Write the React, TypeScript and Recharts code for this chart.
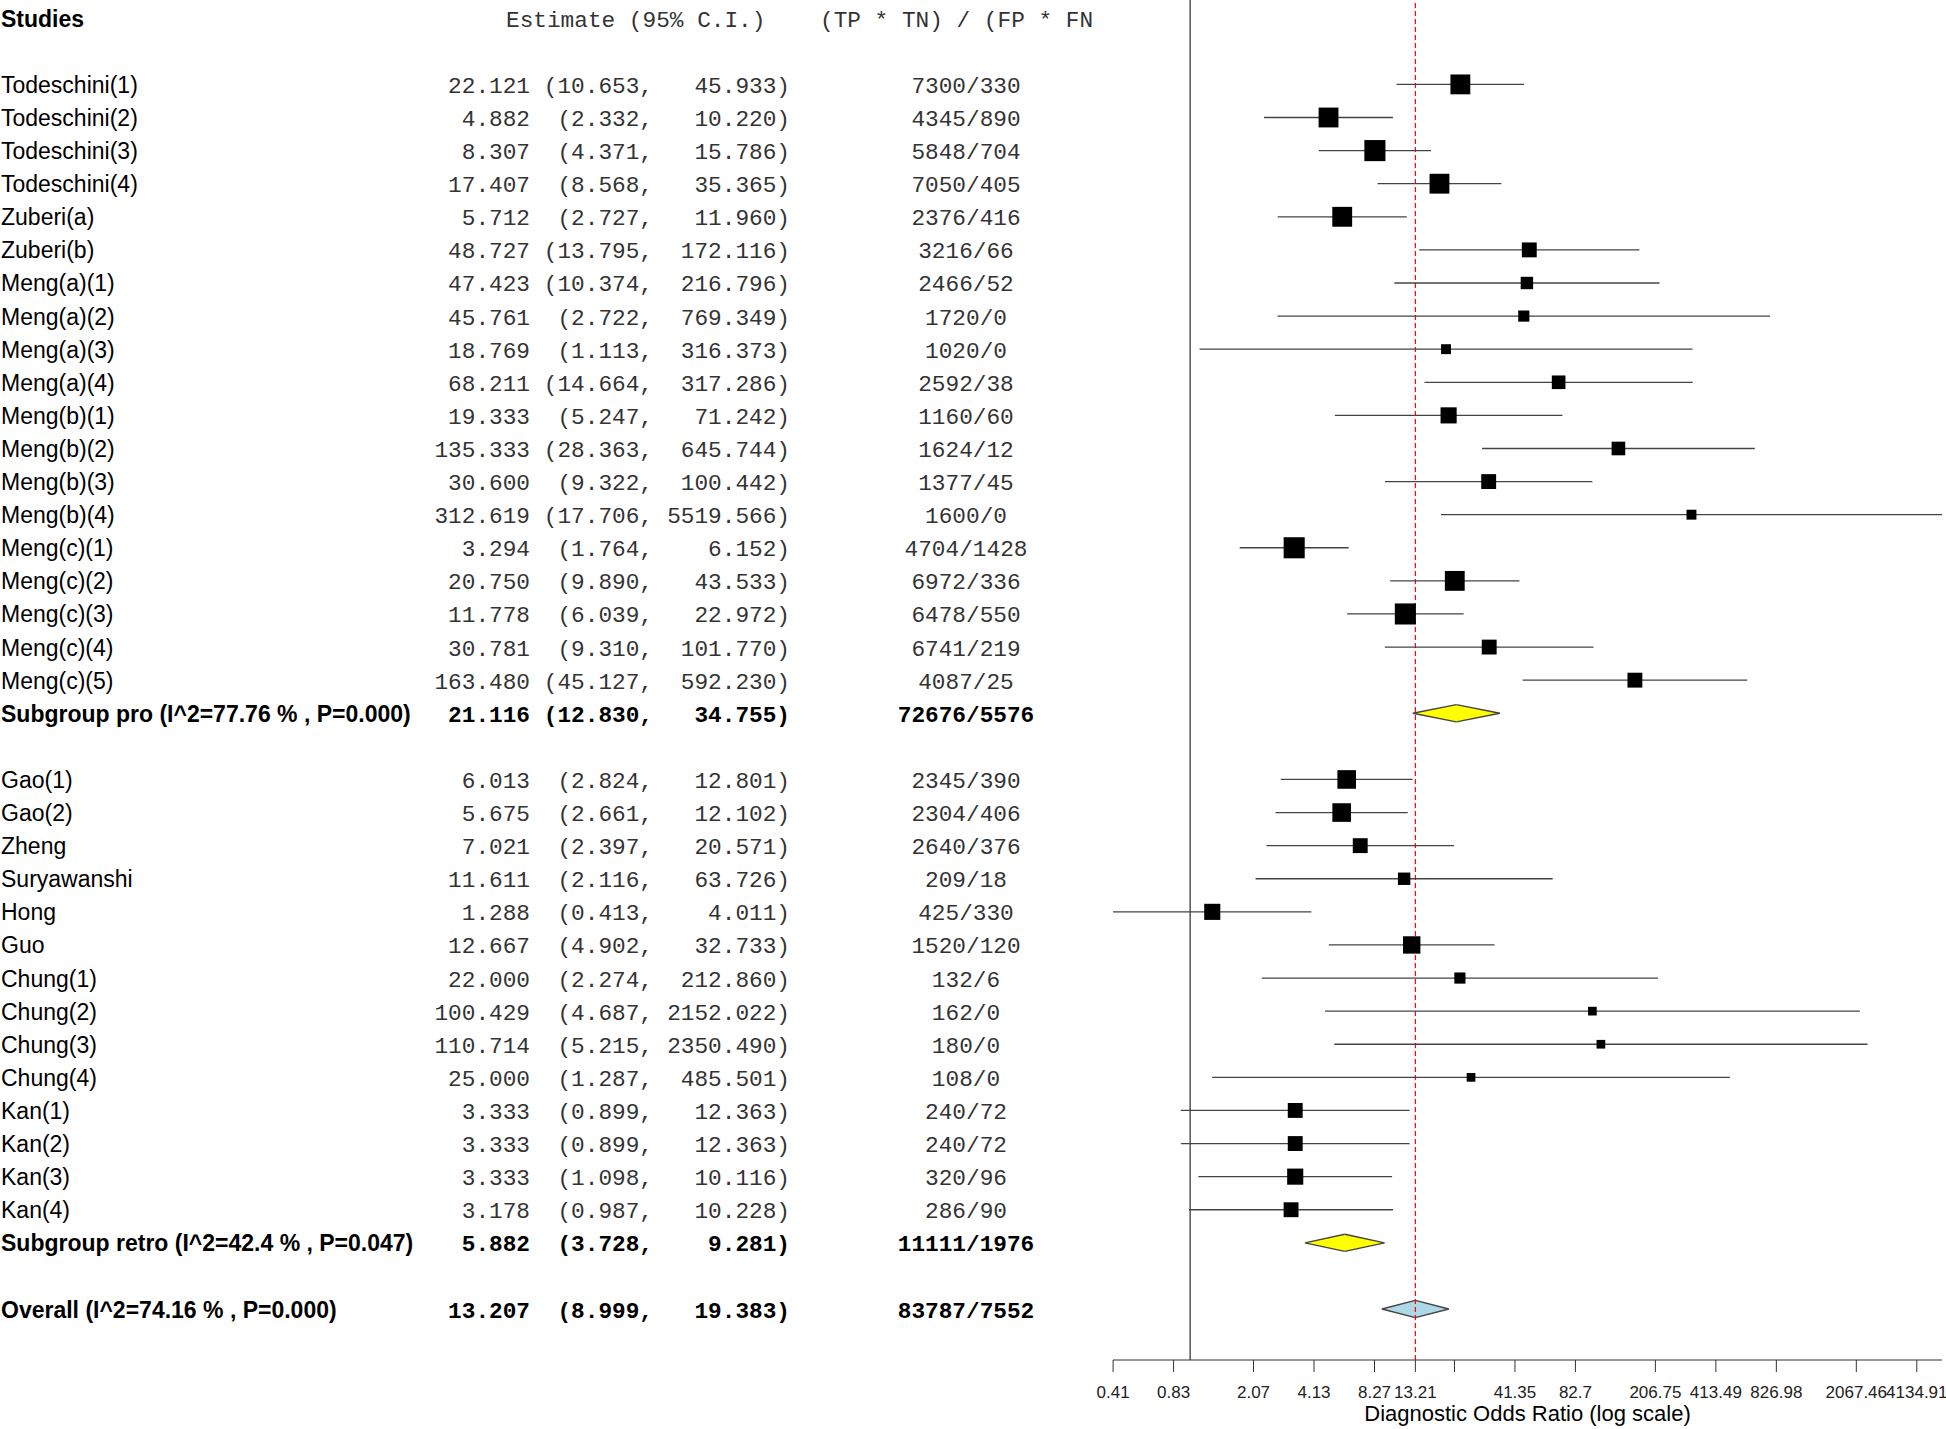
import React from 'react';
import { ComposedChart, Scatter, XAxis, YAxis, ErrorBar, ReferenceLine, ReferenceArea } from 'recharts';

// ---------- data ----------
const studyNames = [
  'Todeschini(1)', 'Todeschini(2)', 'Todeschini(3)', 'Todeschini(4)', 'Zuberi(a)', 'Zuberi(b)',
  'Meng(a)(1)', 'Meng(a)(2)', 'Meng(a)(3)', 'Meng(a)(4)', 'Meng(b)(1)', 'Meng(b)(2)', 'Meng(b)(3)', 'Meng(b)(4)',
  'Meng(c)(1)', 'Meng(c)(2)', 'Meng(c)(3)', 'Meng(c)(4)', 'Meng(c)(5)',
  'Gao(1)', 'Gao(2)', 'Zheng', 'Suryawanshi', 'Hong', 'Guo', 'Chung(1)', 'Chung(2)', 'Chung(3)', 'Chung(4)',
  'Kan(1)', 'Kan(2)', 'Kan(3)', 'Kan(4)',
];
const studyGroup = [
  'pro', 'pro', 'pro', 'pro', 'pro', 'pro', 'pro', 'pro', 'pro', 'pro', 'pro', 'pro', 'pro', 'pro', 'pro', 'pro', 'pro', 'pro', 'pro',
  'retro', 'retro', 'retro', 'retro', 'retro', 'retro', 'retro', 'retro', 'retro', 'retro', 'retro', 'retro', 'retro', 'retro',
];
const estimates = [
  22.121, 4.882, 8.307, 17.407, 5.712, 48.727, 47.423, 45.761, 18.769, 68.211, 19.333, 135.333, 30.6, 312.619,
  3.294, 20.75, 11.778, 30.781, 163.48,
  6.013, 5.675, 7.021, 11.611, 1.288, 12.667, 22.0, 100.429, 110.714, 25.0, 3.333, 3.333, 3.333, 3.178,
];
const lowerCI = [
  10.653, 2.332, 4.371, 8.568, 2.727, 13.795, 10.374, 2.722, 1.113, 14.664, 5.247, 28.363, 9.322, 17.706,
  1.764, 9.89, 6.039, 9.31, 45.127,
  2.824, 2.661, 2.397, 2.116, 0.413, 4.902, 2.274, 4.687, 5.215, 1.287, 0.899, 0.899, 1.098, 0.987,
];
const upperCI = [
  45.933, 10.22, 15.786, 35.365, 11.96, 172.116, 216.796, 769.349, 316.373, 317.286, 71.242, 645.744, 100.442, 5519.566,
  6.152, 43.533, 22.972, 101.77, 592.23,
  12.801, 12.102, 20.571, 63.726, 4.011, 32.733, 212.86, 2152.022, 2350.49, 485.501, 12.363, 12.363, 10.116, 10.228,
];
const ratioText = [
  '7300/330', '4345/890', '5848/704', '7050/405', '2376/416', '3216/66', '2466/52', '1720/0', '1020/0', '2592/38',
  '1160/60', '1624/12', '1377/45', '1600/0', '4704/1428', '6972/336', '6478/550', '6741/219', '4087/25',
  '2345/390', '2304/406', '2640/376', '209/18', '425/330', '1520/120', '132/6', '162/0', '180/0', '108/0',
  '240/72', '240/72', '320/96', '286/90',
];
// relative study weights (box size)
const studyWeights = [
  16, 16, 17, 16, 16, 12, 10, 9, 8, 11, 13, 11, 12, 8, 17, 16, 17, 12, 12,
  15, 15, 12, 10, 13, 14, 9, 7, 7, 7, 12, 12, 13, 12,
];

const subgroupKeys = ['pro', 'retro'];
const subgroupNames = ['Subgroup pro (I^2=77.76 % , P=0.000)', 'Subgroup retro (I^2=42.4 % , P=0.047)'];
const subgroupEst = [21.116, 5.882];
const subgroupLo = [12.83, 3.728];
const subgroupHi = [34.755, 9.281];
const subgroupRatio = ['72676/5576', '11111/1976'];

const overallName = 'Overall (I^2=74.16 % , P=0.000)';
const overallEst = 13.207;
const overallLo = 8.999;
const overallHi = 19.383;
const overallRatio = '83787/7552';

const tickValues = [0.413491, 0.826982, 2.067455, 4.13491, 8.26982, 13.207, 20.67455, 41.3491, 82.6982, 206.7455, 413.491, 826.982, 2067.455, 4134.91];
const tickLabels = ['0.41', '0.83', '2.07', '4.13', '8.27', '13.21', '', '41.35', '82.7', '206.75', '413.49', '826.98', '2067.46', '4134.91'];

// ---------- layout rows ----------
type Row = {
  y: number; kind: 'header' | 'study' | 'summary' | 'overall';
  name: string; est: number; lo: number; hi: number; ratio: string; w: number; fill: string;
};
const rows: Row[] = [];
let r = 0;
rows.push({ y: r, kind: 'header', name: 'Studies', est: 0, lo: 0, hi: 0, ratio: '', w: 0, fill: '' });
r += 2;
subgroupKeys.forEach((g, gi) => {
  studyNames.forEach((n, i) => {
    if (studyGroup[i] !== g) return;
    rows.push({ y: r, kind: 'study', name: n, est: estimates[i], lo: lowerCI[i], hi: upperCI[i], ratio: ratioText[i], w: studyWeights[i], fill: '#000' });
    r += 1;
  });
  rows.push({ y: r, kind: 'summary', name: subgroupNames[gi], est: subgroupEst[gi], lo: subgroupLo[gi], hi: subgroupHi[gi], ratio: subgroupRatio[gi], w: 0, fill: '#FFFF00' });
  r += 2;
});
rows.push({ y: r, kind: 'overall', name: overallName, est: overallEst, lo: overallLo, hi: overallHi, ratio: overallRatio, w: 0, fill: '#ADD8E6' });

const rowByY = new Map(rows.map((row) => [row.y, row]));
const studyPoints = rows
  .filter((row) => row.kind === 'study')
  .map((row) => ({ x: row.est, y: row.y, err: [row.est - row.lo, row.hi - row.est], w: row.w }));
const diamonds = rows.filter((row) => row.kind === 'summary' || row.kind === 'overall');

// ---------- styles ----------
const SANS = "'Liberation Sans', Arial, sans-serif";
const MONO = "'Liberation Mono', 'Courier New', monospace";
const NAME_SIZE = 23;
const MONO_SIZE = 22.75;
const BASE_DY = 8.5;

const RowTick = (props: any) => {
  const { y, payload } = props;
  const row = rowByY.get(payload.value);
  if (!row) return null;
  if (row.kind === 'header') {
    return (
      <g>
        <text x={1} y={y + BASE_DY} fontFamily={SANS} fontSize={NAME_SIZE} fontWeight={700} fill="#000">{row.name}</text>
        <text x={506} y={y + BASE_DY} fontFamily={MONO} fontSize={MONO_SIZE} fill="#333">Estimate (95% C.I.)</text>
        <text x={820} y={y + BASE_DY} fontFamily={MONO} fontSize={MONO_SIZE} fill="#333">(TP * TN) / (FP * FN</text>
      </g>
    );
  }
  const bold = row.kind !== 'study';
  const fw = bold ? 700 : 400;
  const numFill = bold ? '#000' : '#333';
  return (
    <g>
      <text x={1} y={y + BASE_DY} fontFamily={SANS} fontSize={NAME_SIZE} fontWeight={fw} fill="#000">{row.name}</text>
      <text x={530} y={y + BASE_DY} textAnchor="end" fontFamily={MONO} fontSize={MONO_SIZE} fontWeight={fw} fill={numFill}>{row.est.toFixed(3)}</text>
      <text x={653} y={y + BASE_DY} textAnchor="end" fontFamily={MONO} fontSize={MONO_SIZE} fontWeight={fw} fill={numFill}>{`(${row.lo.toFixed(3)},`}</text>
      <text x={790} y={y + BASE_DY} textAnchor="end" fontFamily={MONO} fontSize={MONO_SIZE} fontWeight={fw} fill={numFill}>{`${row.hi.toFixed(3)})`}</text>
      <text x={966} y={y + BASE_DY} textAnchor="middle" fontFamily={MONO} fontSize={MONO_SIZE} fontWeight={fw} fill={numFill}>{row.ratio}</text>
    </g>
  );
};

const BoxShape = (props: any) => {
  const { cx, cy, payload } = props;
  const s = payload.w * 1.24;
  return <rect x={cx - s / 2} y={cy - s / 2} width={s} height={s} fill="#000" />;
};

const makeLeftHalf = (fill: string) => (p: any) => {
  const { x, y, width, height } = p;
  return (
    <g>
      <polygon points={`${x},${y + height / 2} ${x + width + 0.6},${y} ${x + width + 0.6},${y + height}`} fill={fill} stroke="none" />
      <polyline points={`${x + width},${y} ${x},${y + height / 2} ${x + width},${y + height}`} fill="none" stroke="#444" strokeWidth={1.4} />
    </g>
  );
};
const makeRightHalf = (fill: string) => (p: any) => {
  const { x, y, width, height } = p;
  return (
    <g>
      <polygon points={`${x},${y} ${x + width},${y + height / 2} ${x},${y + height}`} fill={fill} stroke="none" />
      <polyline points={`${x},${y} ${x + width},${y + height / 2} ${x},${y + height}`} fill="none" stroke="#444" strokeWidth={1.4} />
    </g>
  );
};

export default function App() {
  return (
    <div style={{ position: 'absolute', left: 0, top: 0, width: 1946, height: 1429, background: '#fff' }}>
      <ComposedChart width={1946} height={1429} margin={{ top: 0, right: 4, bottom: 0, left: 0 }}>
        <XAxis
          dataKey="x"
          type="number"
          scale="log"
          domain={[0.413, 5519.566]}
          allowDataOverflow
          ticks={tickValues}
          interval={0}
          tickFormatter={(v: number) => {
            const i = tickValues.indexOf(v);
            return i >= 0 ? tickLabels[i] : '';
          }}
          tickSize={12}
          tickMargin={14}
          height={69}
          stroke="#333"
          tick={{ fontSize: 17, fill: '#222', fontFamily: SANS }}
          label={{ value: 'Diagnostic Odds Ratio (log scale)', position: 'insideBottom', offset: 8, fontSize: 22, fill: '#000', fontFamily: SANS }}
        />
        <YAxis
          dataKey="y"
          type="number"
          domain={[-0.55, 40.54]}
          reversed
          allowDataOverflow
          width={1113}
          ticks={rows.map((row) => row.y)}
          interval={0}
          axisLine={false}
          tickLine={false}
          tick={(p: any) => <RowTick {...p} />}
        />
        <ReferenceLine x={1} stroke="#555" strokeWidth={1.5} />
        <ReferenceLine x={13.207} stroke="#ff0000" strokeWidth={1.2} strokeDasharray="5 3" />
        {diamonds.map((d) => (
          <ReferenceArea key={`l${d.y}`} x1={d.lo} x2={d.est} y1={d.y - 0.26} y2={d.y + 0.26} shape={makeLeftHalf(d.fill)} />
        ))}
        {diamonds.map((d) => (
          <ReferenceArea key={`r${d.y}`} x1={d.est} x2={d.hi} y1={d.y - 0.26} y2={d.y + 0.26} shape={makeRightHalf(d.fill)} />
        ))}
        <Scatter data={studyPoints} shape={BoxShape} isAnimationActive={false}>
          <ErrorBar dataKey="err" direction="x" width={0} stroke="#444" strokeWidth={1.3} />
        </Scatter>
      </ComposedChart>
    </div>
  );
}
